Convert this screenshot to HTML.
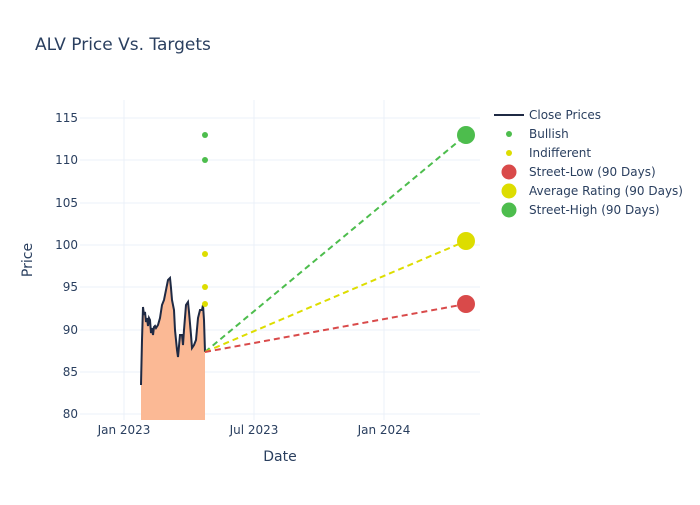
<!DOCTYPE html>
<html><head><style>body{margin:0;background:#fff}svg text{font-family:"DejaVu Sans",sans-serif}</style></head><body>
<svg width="700" height="500" xmlns="http://www.w3.org/2000/svg">
<rect width="700" height="500" fill="#fff"/>
<text x="35" y="50" font-size="17" fill="#2a3f5f">ALV Price Vs. Targets</text>
<g stroke="#ebf0f8" stroke-width="1">
<line x1="80" x2="480" y1="414" y2="414"/><line x1="80" x2="480" y1="372" y2="372"/><line x1="80" x2="480" y1="330" y2="330"/><line x1="80" x2="480" y1="287" y2="287"/><line x1="80" x2="480" y1="245" y2="245"/><line x1="80" x2="480" y1="203" y2="203"/><line x1="80" x2="480" y1="160" y2="160"/><line x1="80" x2="480" y1="118" y2="118"/>
<line x1="124" x2="124" y1="100" y2="420"/><line x1="254" x2="254" y1="100" y2="420"/><line x1="384" x2="384" y1="100" y2="420"/>
</g>
<g font-size="12" fill="#2a3f5f" text-anchor="end">
<text x="78" y="418">80</text><text x="78" y="376">85</text><text x="78" y="334">90</text><text x="78" y="291">95</text><text x="78" y="249">100</text><text x="78" y="207">105</text><text x="78" y="164">110</text><text x="78" y="122">115</text>
</g>
<g font-size="12" fill="#2a3f5f" text-anchor="middle">
<text x="124" y="434">Jan 2023</text><text x="254" y="434">Jul 2023</text><text x="384" y="434">Jan 2024</text>
<text x="280" y="461" font-size="14">Date</text>
</g>
<text x="32" y="260" font-size="14" fill="#2a3f5f" text-anchor="middle" transform="rotate(-90 32 260)">Price</text>
<path d="M141,420 L141,385 142,340 143,307 144,315 145,312 146,322 147,318 148,326 149,318 150,320 151,333 152,328 153,335 154,327 155,326 156,328 158,325 160,318 162,305 164,300 166,290 168,280 170,278 171,288 172,300 174,310 175,330 176,340 177,350 178,357 180,335 182,335 183,345 184,330 186,305 188,302 189,312 191,335 192,348 194,345 196,340 198,318 200,310 202,310 203,305 204,320 205,352 L205,420 Z" fill="#fbb995"/>
<path d="M141,385 142,340 143,307 144,315 145,312 146,322 147,318 148,326 149,318 150,320 151,333 152,328 153,335 154,327 155,326 156,328 158,325 160,318 162,305 164,300 166,290 168,280 170,278 171,288 172,300 174,310 175,330 176,340 177,350 178,357 180,335 182,335 183,345 184,330 186,305 188,302 189,312 191,335 192,348 194,345 196,340 198,318 200,310 202,310 203,305 204,320 205,352" fill="none" stroke="#1f2a44" stroke-width="2"/>
<g stroke-width="2" stroke-dasharray="6,4" fill="none">
<line x1="205" y1="352" x2="466" y2="135" stroke="#4dbd4d"/>
<line x1="205" y1="352" x2="466" y2="241" stroke="#dddd00"/>
<line x1="205" y1="352" x2="466" y2="304" stroke="#d94a4a"/>
</g>
<circle cx="205" cy="135" r="3" fill="#4dbd4d"/><circle cx="205" cy="160" r="3" fill="#4dbd4d"/>
<circle cx="205" cy="254" r="3" fill="#dddd00"/><circle cx="205" cy="287" r="3" fill="#dddd00"/><circle cx="205" cy="304" r="3" fill="#dddd00"/>
<circle cx="466" cy="135" r="9" fill="#4dbd4d"/><circle cx="466" cy="241" r="9" fill="#dddd00"/><circle cx="466" cy="304" r="9" fill="#d94a4a"/>
<g font-size="12" fill="#2a3f5f">
<line x1="494" x2="524" y1="115" y2="115" stroke="#1f2a44" stroke-width="2"/><text x="529" y="119">Close Prices</text>
<circle cx="509" cy="134" r="3" fill="#4dbd4d"/><text x="529" y="138">Bullish</text>
<circle cx="509" cy="153" r="3" fill="#dddd00"/><text x="529" y="157">Indifferent</text>
<circle cx="509" cy="172" r="7.5" fill="#d94a4a"/><text x="529" y="176">Street-Low (90 Days)</text>
<circle cx="509" cy="191" r="7.5" fill="#dddd00"/><text x="529" y="195">Average Rating (90 Days)</text>
<circle cx="509" cy="210" r="7.5" fill="#4dbd4d"/><text x="529" y="214">Street-High (90 Days)</text>
</g>
</svg>
</body></html>
